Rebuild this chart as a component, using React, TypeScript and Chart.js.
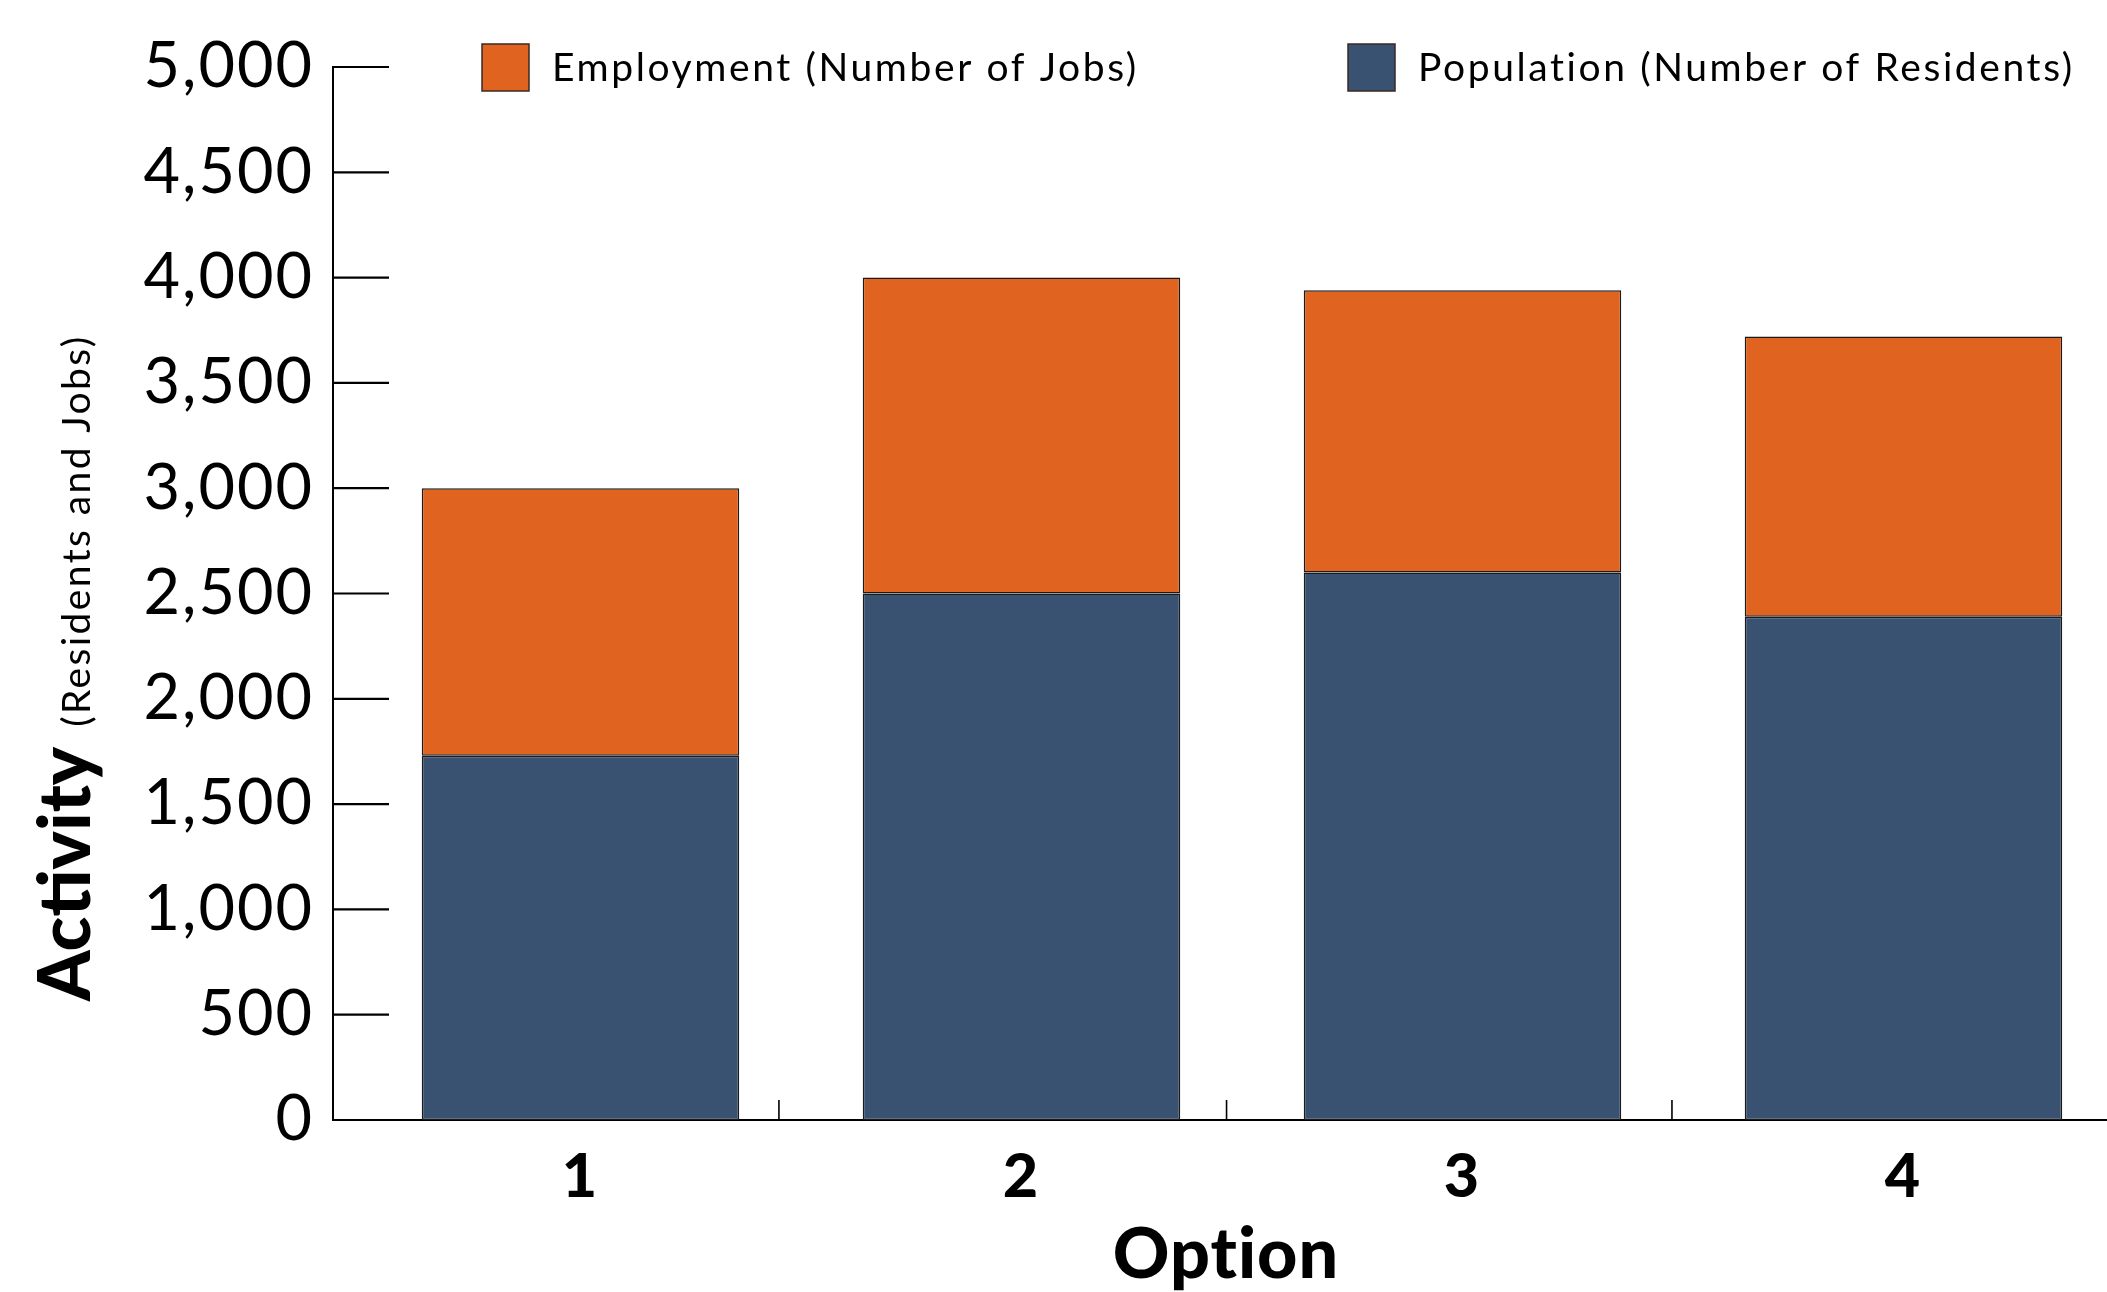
import { useEffect, useRef } from 'react';
import { Chart, registerables } from 'chart.js';

Chart.register(...registerables);

// ---- data ----
const optionValues = [1, 2, 3, 4];
const optionLabels = ['1', '2', '3', '4'];
const population = [1730, 2500, 2600, 2390];
const employment = [1270, 1500, 1340, 1330];
const yTickValues = [0, 500, 1000, 1500, 2000, 2500, 3000, 3500, 4000, 4500, 5000];
const boundaryTicks = [1.45, 2.465, 3.475];
const seriesNames = ['Population (Number of Residents)', 'Employment (Number of Jobs)'];
const xTitle = 'Option';
const yTitleMain = 'Activity';
const yTitleSub = '(Residents and Jobs)';

const NAVY = '#3A5272';
const ORANGE = '#E06320';
const FONT = 'Lato';

const decorPlugin = {
  id: 'decor',
  beforeDraw(chart: any) {
    // slightly wider letter spacing for tick labels (Avenir-like width)
    (chart.ctx as any).letterSpacing = '2px';
  },
  beforeDatasetsDraw(chart: any) {
    const { ctx, chartArea, scales } = chart;
    const y = scales.y;
    const x = scales.x;
    ctx.save();
    ctx.strokeStyle = '#000';
    ctx.lineWidth = 2.2;
    y.ticks.forEach((t: any) => {
      const py = y.getPixelForValue(t.value);
      ctx.beginPath();
      ctx.moveTo(chartArea.left, py);
      ctx.lineTo(chartArea.left + 56, py);
      ctx.stroke();
    });
    ctx.lineWidth = 1.6;
    boundaryTicks.forEach((v) => {
      const px = x.getPixelForValue(v);
      ctx.beginPath();
      ctx.moveTo(px, chartArea.bottom);
      ctx.lineTo(px, chartArea.bottom - 20);
      ctx.stroke();
    });
    ctx.restore();
  },
  afterDraw(chart: any) {
    const { ctx, chartArea } = chart;
    ctx.save();
    // legend
    const items = [
      { ds: chart.data.datasets[1], x: 482 },
      { ds: chart.data.datasets[0], x: 1348 },
    ];
    items.forEach(({ ds, x }) => {
      ctx.fillStyle = ds.backgroundColor;
      ctx.fillRect(x, 44, 47, 47);
      ctx.strokeStyle = '#3a2a22';
      ctx.lineWidth = 1.5;
      ctx.strokeRect(x, 44, 47, 47);
      ctx.fillStyle = '#000';
      ctx.font = `39px ${FONT}`;
      (ctx as any).letterSpacing = '2.6px';
      ctx.textAlign = 'left';
      ctx.textBaseline = 'middle';
      ctx.fillText(ds.label, x + 70, 68);
    });
    // x title
    ctx.fillStyle = '#000';
    (ctx as any).letterSpacing = '1px';
    ctx.font = `900 70px ${FONT}`;
    ctx.textAlign = 'center';
    ctx.textBaseline = 'alphabetic';
    ctx.fillText(xTitle, (chartArea.left + chartArea.right) / 2 + 6, 1278);
    // y title
    ctx.translate(90, 1001);
    ctx.rotate(-Math.PI / 2);
    ctx.textAlign = 'left';
    (ctx as any).letterSpacing = '0px';
    ctx.font = `900 72px ${FONT}`;
    ctx.fillText(yTitleMain, 0, 0);
    const w = ctx.measureText(yTitleMain).width;
    ctx.font = `39px ${FONT}`;
    (ctx as any).letterSpacing = '2.4px';
    ctx.fillText(yTitleSub, w + 20, 0);
    ctx.restore();
  },
};

export default function App() {
  const ref = useRef<HTMLCanvasElement>(null);
  useEffect(() => {
    const canvas = ref.current!;
    const chart = new Chart(canvas, {
      type: 'bar',
      data: {
        datasets: [
          {
            label: seriesNames[0],
            data: optionValues.map((x, i) => ({ x, y: population[i] })),
            backgroundColor: NAVY,
            borderColor: '#1a1a1a',
            borderWidth: 1.5,
            borderSkipped: false,
          },
          {
            label: seriesNames[1],
            data: optionValues.map((x, i) => ({ x, y: employment[i] })),
            backgroundColor: ORANGE,
            borderColor: '#1a1a1a',
            borderWidth: 1.5,
            borderSkipped: false,
          },
        ],
      },
      options: {
        animation: false,
        responsive: false,
        maintainAspectRatio: false,
        devicePixelRatio: 1,
        layout: { padding: { top: 67, left: 0, right: 0, bottom: 0 } },
        plugins: { legend: { display: false }, tooltip: { enabled: false } },
        datasets: { bar: { barPercentage: 0.72, categoryPercentage: 1 } },
        scales: {
          x: {
            type: 'linear',
            stacked: true,
            offset: false,
            min: 0.4388,
            max: 4.4615,
            grid: { display: false, drawTicks: false },
            border: { display: true, color: '#000', width: 2 },
            afterBuildTicks: (scale: any) => {
              scale.ticks = optionValues.map((v) => ({ value: v }));
            },
            afterFit: (scale: any) => {
              scale.height = 172;
            },
            ticks: {
              autoSkip: false,
              maxRotation: 0,
              padding: 21,
              color: '#000',
              font: { family: FONT, size: 61, weight: '900' as any },
              callback: (v: any) => {
                const i = optionValues.indexOf(Number(v));
                return i >= 0 ? optionLabels[i] : '';
              },
            },
          },
          y: {
            type: 'linear',
            stacked: true,
            min: 0,
            max: 5000,
            grid: { display: false, drawTicks: false },
            border: { display: true, color: '#000', width: 2 },
            afterBuildTicks: (scale: any) => {
              scale.ticks = yTickValues.map((v) => ({ value: v }));
            },
            afterFit: (scale: any) => {
              scale.width = 333;
            },
            ticks: {
              padding: 19,
              color: '#000',
              font: { family: FONT, size: 63 },
              callback: (v: any) => Number(v).toLocaleString('en-US'),
            },
          },
        },
      },
      plugins: [decorPlugin],
    } as any);
    return () => chart.destroy();
  }, []);
  return (
    <div style={{ position: 'absolute', left: 0, top: 0, width: 2107, height: 1292, background: '#fff' }}>
      <canvas ref={ref} width={2107} height={1292} style={{ display: 'block', width: 2107, height: 1292 }} />
    </div>
  );
}
